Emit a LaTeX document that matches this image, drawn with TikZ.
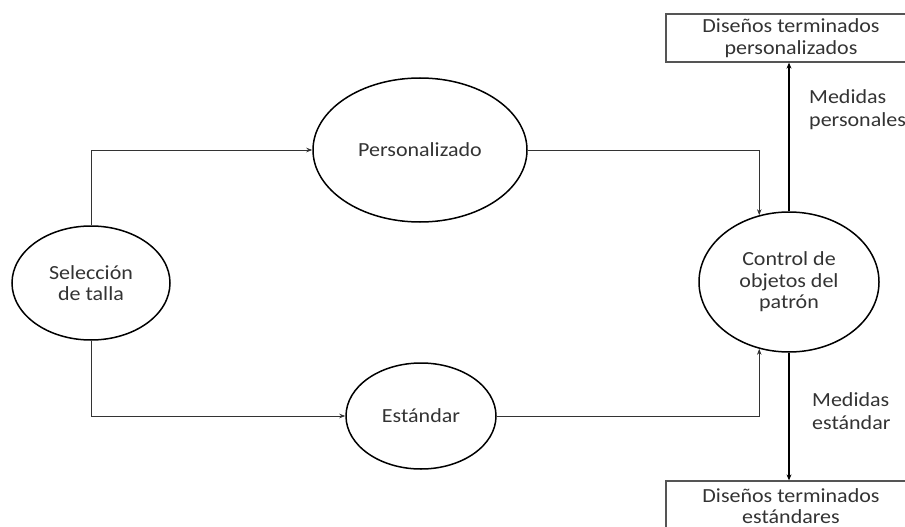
\documentclass[tikz,border=0pt]{standalone}
\usepackage{fontspec}
\setmainfont{Carlito}[FakeStretch=1.1]
\usetikzlibrary{shapes.geometric,arrows.meta}
\definecolor{ink}{HTML}{333333}
\definecolor{boxline}{HTML}{555555}
\tikzset{
  proc/.style={ellipse, draw=black, line width=1.5pt, inner sep=0pt,
    align=center, text=ink, font=\fontsize{20}{21.5}\selectfont},
  flow/.style={draw=ink, line width=0.8pt, -{Stealth[length=6pt,width=4.5pt]}},
  mainflow/.style={draw=black, line width=2.2pt, -{Stealth[length=6pt,width=5pt]}},
  outbox/.style={draw=boxline, line width=1.3pt, fill=white, align=center, text=ink,
    font=\fontsize{20}{21.5}\selectfont, inner sep=0pt},
  lbl/.style={align=left, text=ink, anchor=west, inner sep=0pt,
    font=\fontsize{20}{23}\selectfont}
}
\begin{document}
\begin{tikzpicture}[x=1pt, y=-1pt]
  \useasboundingbox (0,0) rectangle (905,527);
  \clip (0,0) rectangle (905,527);

  % processes
  \node[proc, minimum width=158pt, minimum height=114pt] (sel) at (91,283) {Selección\\de talla};
  \node[proc, minimum width=214pt, minimum height=144pt] (pers) at (420,150) {Personalizado};
  \node[proc, minimum width=150pt, minimum height=106pt] (est) at (421,416) {Estándar};
  \node[proc, minimum width=180pt, minimum height=140pt] (ctrl) at (789,282) {Control de\\objetos del\\patrón};

  % output boxes
  \node[outbox, minimum width=250pt, minimum height=48pt] (outp) at (791,38) {Diseños terminados\\personalizados};
  \node[outbox, minimum width=250pt, minimum height=60pt] (oute) at (791,511) {};
  \node[align=center, text=ink, font=\fontsize{20}{21.5}\selectfont, inner sep=0pt] (outet) at (791,506) {Diseños terminados\\estándares};

  % branch points
  \coordinate (ctrlin) at (ctrl.114);
  \coordinate (ctrlout) at (ctrl.246);

  % size selection branches
  \draw[flow] (sel.north) |- (pers.west);
  \draw[flow] (sel.south) |- (est.west);

  % into the pattern control
  \draw[flow] (pers.east) -| (ctrlin);
  \draw[flow] (est.east) -| (ctrlout);

  % finished designs
  \draw[mainflow] (ctrl.north) -- (ctrl.north |- outp.south);
  \draw[mainflow] (ctrl.south) -- (ctrl.south |- oute.north);

  % flow labels
  \node[lbl] (lp) at (809,110) {Medidas\\personales};
  \node[lbl] (le) at (812,411) {Medidas\\estándar};
\end{tikzpicture}
\end{document}
